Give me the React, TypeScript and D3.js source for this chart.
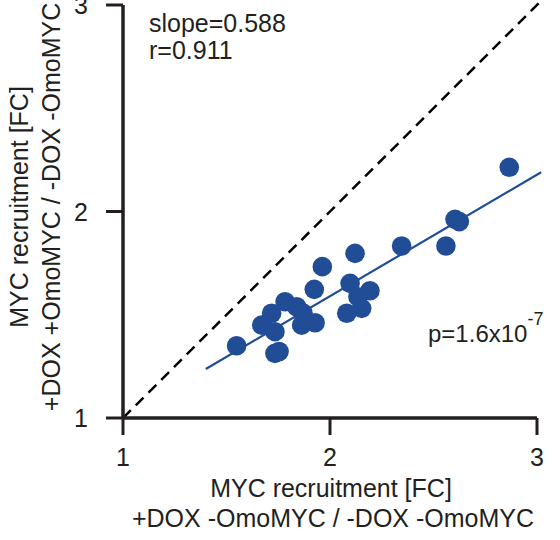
import React from "react";
import * as d3 from "d3";

const xValues = [1.549, 1.734, 1.754, 1.670, 1.718, 1.734, 1.783, 1.839, 1.863, 1.870, 1.928, 1.924, 1.963, 2.121, 2.097, 2.193, 2.135, 2.153, 2.081, 2.346, 2.560, 2.604, 2.625, 2.866];
const yValues = [1.350, 1.313, 1.322, 1.450, 1.507, 1.418, 1.563, 1.539, 1.450, 1.508, 1.461, 1.623, 1.733, 1.797, 1.652, 1.616, 1.587, 1.531, 1.507, 1.833, 1.833, 1.962, 1.951, 2.214];
const xTicks = [1, 2, 3];
const yTicks = [1, 2, 3];
const slope = 0.588;
const intercept = 0.414;
const fitRange = [1.4, 3.02];
const identityRange = [1, 3.06];

const W = 560;
const H = 540;
const BLUE = "#214d97";
const TEXT = "#231f20";
const FONT = "'Liberation Sans', Arial, sans-serif";
const FS = 25;

export default function App() {
  const x = d3.scaleLinear().domain([1, 3]).range([123, 537]);
  const y = d3.scaleLinear().domain([1, 3]).range([418, 5]);
  const line = d3.line<[number, number]>().x((d) => x(d[0])).y((d) => y(d[1]));
  const fitPts: [number, number][] = fitRange.map((v) => [v, intercept + slope * v]);
  const idPts: [number, number][] = identityRange.map((v) => [v, v]);
  const tick = 17;
  return (
    <svg width={W} height={H} style={{ position: "absolute", left: 0, top: 0, display: "block" }} fontFamily={FONT}>
      <rect width={W} height={H} fill="#fff" />
      {/* identity dashed line */}
      <path d={line(idPts) || ""} stroke="#000" strokeWidth={2.5} strokeDasharray="11,7" fill="none" />
      {/* axes */}
      <line x1={x(1)} x2={x(3)} y1={y(1)} y2={y(1)} stroke={TEXT} strokeWidth={3.5} />
      <line x1={x(1)} x2={x(1)} y1={y(1)} y2={y(3)} stroke={TEXT} strokeWidth={3.5} />
      {xTicks.map((t) => (
        <g key={"x" + t}>
          <line x1={x(t)} x2={x(t)} y1={y(1)} y2={y(1) + tick} stroke={TEXT} strokeWidth={3} />
          <text x={x(t)} y={466} textAnchor="middle" fontSize={FS} fill={TEXT}>{t}</text>
        </g>
      ))}
      {yTicks.map((t) => (
        <g key={"y" + t}>
          <line x1={x(1) - tick} x2={x(1)} y1={y(t)} y2={y(t)} stroke={TEXT} strokeWidth={3} />
          <text x={88} y={y(t)} dy="0.36em" textAnchor="end" fontSize={FS} fill={TEXT}>{t}</text>
        </g>
      ))}
      {/* points */}
      {xValues.map((xv, i) => (
        <circle key={i} cx={x(xv)} cy={y(yValues[i])} r={9.8} fill={BLUE} />
      ))}
      {/* fit line */}
      <path d={line(fitPts) || ""} stroke={BLUE} strokeWidth={2.2} fill="none" />
      {/* annotations */}
      <text x={149} y={32} fontSize={FS} fill={TEXT}>slope=0.588</text>
      <text x={149} y={59} fontSize={FS} fill={TEXT}>r=0.911</text>
      <text x={428} y={342} fontSize={24} fill={TEXT}>
        p=1.6x10<tspan dy={-17} fontSize={18}>-7</tspan>
      </text>
      {/* x title */}
      <text x={331} y={497} textAnchor="middle" fontSize={FS} fill={TEXT}>MYC recruitment [FC]</text>
      <text x={333} y={527} textAnchor="middle" fontSize={FS} fill={TEXT}>+DOX -OmoMYC / -DOX -OmoMYC</text>
      {/* y title */}
      <text transform="translate(28,207) rotate(-90)" textAnchor="middle" fontSize={FS} fill={TEXT}>MYC recruitment [FC]</text>
      <text transform="translate(60,207) rotate(-90)" textAnchor="middle" fontSize={FS} fill={TEXT}>+DOX +OmoMYC / -DOX -OmoMYC</text>
    </svg>
  );
}
